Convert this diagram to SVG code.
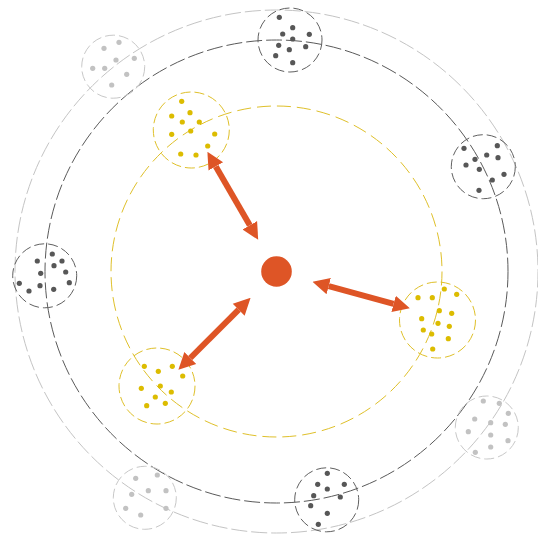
<svg xmlns="http://www.w3.org/2000/svg" width="538" height="539" viewBox="0 0 538 539">
<style>
.orbit{fill:none;stroke-width:1}
.o-light{stroke:#c4c4c4;stroke-dasharray:16 4}
.o-dark{stroke:#5a5a5a;stroke-dasharray:16 4}
.o-yellow{stroke:#dfc02a;stroke-dasharray:14 6}
.c-light{fill:none;stroke:#c8c8c8;stroke-width:1;stroke-dasharray:10 4}
.c-dark{fill:none;stroke:#606060;stroke-width:1;stroke-dasharray:10 4}
.c-yellow{fill:none;stroke:#dfc02a;stroke-width:1;stroke-dasharray:10 4}
.d-light circle{fill:#c2c2c2}
.d-dark circle{fill:#575757}
.d-yellow circle{fill:#dcbc00}
.arrow{fill:none;stroke:#de5526;stroke-width:6;marker-start:url(#head);marker-end:url(#head)}
</style>
<defs>
<marker id="head" viewBox="0 0 10 10" refX="0" refY="5" markerWidth="2.8" markerHeight="3.5" orient="auto-start-reverse" markerUnits="strokeWidth">
<path d="M0,0 L10,5 L0,10 z" fill="#de5526"/>
</marker>
</defs>
<rect width="538" height="539" fill="#fff"/>
<g id="orbits">
<circle class="orbit o-light" cx="276.5" cy="271.5" r="261.5"/>
<circle class="orbit o-dark" cx="276.5" cy="271.5" r="231.5"/>
<circle class="orbit o-yellow" cx="276.5" cy="271.5" r="165.5"/>
</g>
<g id="cluster-light-1">
<circle class="c-light" cx="113.2" cy="66.7" r="31.5"/>
<g class="d-light"><circle cx="119" cy="42.3" r="2.6"/><circle cx="104" cy="48.3" r="2.6"/><circle cx="116" cy="60" r="2.6"/><circle cx="134.3" cy="58.3" r="2.6"/><circle cx="92.7" cy="68.3" r="2.6"/><circle cx="104.7" cy="68.3" r="2.6"/><circle cx="126.7" cy="74.3" r="2.6"/><circle cx="111.7" cy="85" r="2.6"/></g>
</g>
<g id="cluster-light-2">
<circle class="c-light" cx="486.8" cy="427.5" r="31.5"/>
<g class="d-light"><circle cx="483.3" cy="401" r="2.6"/><circle cx="499.3" cy="403.3" r="2.6"/><circle cx="508.3" cy="413.3" r="2.6"/><circle cx="474.7" cy="419" r="2.6"/><circle cx="490.7" cy="422.7" r="2.6"/><circle cx="505.3" cy="424.3" r="2.6"/><circle cx="468.3" cy="431.7" r="2.6"/><circle cx="490.7" cy="435" r="2.6"/><circle cx="508" cy="440.7" r="2.6"/><circle cx="490.7" cy="447" r="2.6"/><circle cx="475.3" cy="452.3" r="2.6"/></g>
</g>
<g id="cluster-light-3">
<circle class="c-light" cx="144.8" cy="497.8" r="31.5"/>
<g class="d-light"><circle cx="135.7" cy="478.3" r="2.6"/><circle cx="157.3" cy="475" r="2.6"/><circle cx="131.7" cy="494.3" r="2.6"/><circle cx="148.3" cy="490.7" r="2.6"/><circle cx="166" cy="490.7" r="2.6"/><circle cx="125.7" cy="508.3" r="2.6"/><circle cx="166" cy="508.3" r="2.6"/><circle cx="140.7" cy="515" r="2.6"/></g>
</g>
<g id="cluster-dark-1">
<circle class="c-dark" cx="290" cy="40" r="32"/>
<g class="d-dark"><circle cx="279.3" cy="17.3" r="2.6"/><circle cx="292.7" cy="27.7" r="2.6"/><circle cx="282.7" cy="34" r="2.6"/><circle cx="309.3" cy="34.3" r="2.6"/><circle cx="292.7" cy="39" r="2.6"/><circle cx="278.7" cy="45.3" r="2.6"/><circle cx="289.3" cy="49.7" r="2.6"/><circle cx="305.7" cy="46.7" r="2.6"/><circle cx="275.7" cy="55.7" r="2.6"/><circle cx="292.7" cy="62.7" r="2.6"/></g>
</g>
<g id="cluster-dark-2">
<circle class="c-dark" cx="483.3" cy="166.7" r="32"/>
<g class="d-dark"><circle cx="464" cy="148.3" r="2.6"/><circle cx="497.3" cy="145.7" r="2.6"/><circle cx="475" cy="159.3" r="2.6"/><circle cx="486.7" cy="155" r="2.6"/><circle cx="498" cy="157.7" r="2.6"/><circle cx="466" cy="165" r="2.6"/><circle cx="479.3" cy="169.3" r="2.6"/><circle cx="492.3" cy="180" r="2.6"/><circle cx="504" cy="174.3" r="2.6"/><circle cx="479" cy="190.3" r="2.6"/></g>
</g>
<g id="cluster-dark-3">
<circle class="c-dark" cx="44.7" cy="275.8" r="32"/>
<g class="d-dark"><circle cx="52.3" cy="254" r="2.6"/><circle cx="37.3" cy="261" r="2.6"/><circle cx="62" cy="261" r="2.6"/><circle cx="54" cy="265.7" r="2.6"/><circle cx="40.7" cy="273.3" r="2.6"/><circle cx="65.7" cy="272" r="2.6"/><circle cx="19.3" cy="283.3" r="2.6"/><circle cx="40" cy="285.7" r="2.6"/><circle cx="69.3" cy="282.7" r="2.6"/><circle cx="29" cy="291" r="2.6"/><circle cx="53.7" cy="289.3" r="2.6"/></g>
</g>
<g id="cluster-dark-4">
<circle class="c-dark" cx="326.7" cy="499.8" r="32"/>
<g class="d-dark"><circle cx="327.3" cy="473.3" r="2.6"/><circle cx="317.7" cy="484.3" r="2.6"/><circle cx="344.3" cy="484.3" r="2.6"/><circle cx="327.3" cy="489" r="2.6"/><circle cx="313.7" cy="495.7" r="2.6"/><circle cx="340.3" cy="497" r="2.6"/><circle cx="310.7" cy="505.7" r="2.6"/><circle cx="327.3" cy="513.3" r="2.6"/><circle cx="318.3" cy="524.3" r="2.6"/></g>
</g>
<g id="cluster-yellow-1">
<circle class="c-yellow" cx="191.3" cy="130" r="38"/>
<g class="d-yellow"><circle cx="181.7" cy="101.3" r="2.6"/><circle cx="171.7" cy="116" r="2.6"/><circle cx="190" cy="112.7" r="2.6"/><circle cx="182.3" cy="122" r="2.6"/><circle cx="199.3" cy="122" r="2.6"/><circle cx="171.7" cy="134.3" r="2.6"/><circle cx="190.7" cy="131" r="2.6"/><circle cx="214.7" cy="134" r="2.6"/><circle cx="207.7" cy="146" r="2.6"/><circle cx="180.7" cy="154" r="2.6"/><circle cx="196" cy="155" r="2.6"/></g>
</g>
<g id="cluster-yellow-2">
<circle class="c-yellow" cx="437.5" cy="320" r="38"/>
<g class="d-yellow"><circle cx="444.3" cy="289" r="2.6"/><circle cx="456.7" cy="294.3" r="2.6"/><circle cx="418" cy="297.7" r="2.6"/><circle cx="432.3" cy="297.7" r="2.6"/><circle cx="439.3" cy="310.7" r="2.6"/><circle cx="451.7" cy="313.3" r="2.6"/><circle cx="421.7" cy="318.7" r="2.6"/><circle cx="438" cy="323.3" r="2.6"/><circle cx="449.3" cy="326.3" r="2.6"/><circle cx="423.3" cy="330" r="2.6"/><circle cx="431.7" cy="334" r="2.6"/><circle cx="448.3" cy="338.7" r="2.6"/><circle cx="432.7" cy="349" r="2.6"/></g>
</g>
<g id="cluster-yellow-3">
<circle class="c-yellow" cx="157" cy="386" r="38"/>
<g class="d-yellow"><circle cx="144.3" cy="366.3" r="2.6"/><circle cx="158.3" cy="371.3" r="2.6"/><circle cx="172.3" cy="366.3" r="2.6"/><circle cx="182.7" cy="376" r="2.6"/><circle cx="141.3" cy="388.3" r="2.6"/><circle cx="160.3" cy="386" r="2.6"/><circle cx="171.3" cy="392" r="2.6"/><circle cx="155.3" cy="397" r="2.6"/><circle cx="165.3" cy="403.3" r="2.6"/><circle cx="146.7" cy="405.7" r="2.6"/></g>
</g>
<g id="center">
<circle cx="276.5" cy="271.5" r="15.3" fill="#de5526"/>
</g>
<g id="connectors">
<path class="arrow" d="M215.8,166.4 L249.8,225.3"/>
<path class="arrow" d="M328.7,286.2 L393.6,303.8"/>
<path class="arrow" d="M238.7,309.7 L190.3,358"/>
</g>
</svg>
